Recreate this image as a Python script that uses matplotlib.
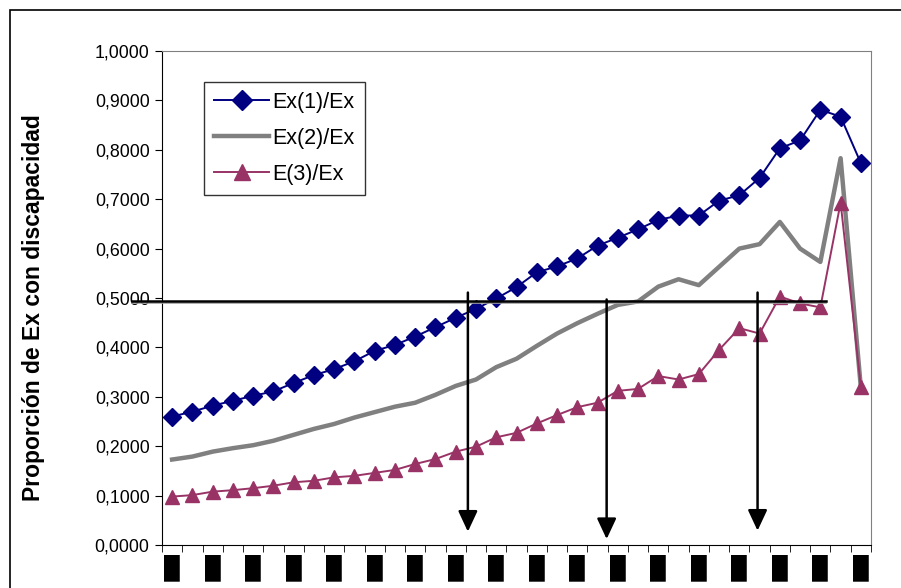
import matplotlib
matplotlib.use('Agg')
import matplotlib.pyplot as plt
from matplotlib.patches import Rectangle

plt.rcParams['font.family'] = ['Liberation Sans', 'DejaVu Sans']

# proportion of expected years lived with disability, by age group
ex1 = [0.260, 0.270, 0.282, 0.292, 0.302, 0.311, 0.328, 0.344, 0.356, 0.372,
       0.393, 0.405, 0.422, 0.441, 0.460, 0.478, 0.499, 0.522, 0.552, 0.564,
       0.580, 0.606, 0.622, 0.639, 0.658, 0.667, 0.667, 0.697, 0.708, 0.743,
       0.803, 0.819, 0.881, 0.867, 0.773]
ex2 = [0.173, 0.179, 0.189, 0.196, 0.202, 0.211, 0.223, 0.235, 0.245, 0.258,
       0.269, 0.280, 0.288, 0.304, 0.322, 0.335, 0.360, 0.377, 0.403, 0.428,
       0.449, 0.468, 0.486, 0.493, 0.523, 0.538, 0.526, 0.563, 0.600, 0.609,
       0.654, 0.600, 0.573, 0.783, 0.318]
ex3 = [0.098, 0.101, 0.108, 0.111, 0.115, 0.120, 0.127, 0.130, 0.137, 0.140,
       0.146, 0.152, 0.164, 0.174, 0.189, 0.199, 0.218, 0.227, 0.246, 0.263,
       0.279, 0.288, 0.312, 0.316, 0.342, 0.335, 0.346, 0.395, 0.439, 0.428,
       0.503, 0.489, 0.481, 0.693, 0.320]

series_labels = ['Ex(1)/Ex', 'Ex(2)/Ex', 'E(3)/Ex']
category_labels = ['\u2588'] * 18
y_ticks = [0.0, 0.1, 0.2, 0.3, 0.4, 0.5, 0.6, 0.7, 0.8, 0.9, 1.0]
y_tick_labels = ['0,0000', '0,1000', '0,2000', '0,3000', '0,4000', '0,5000',
                 '0,6000', '0,7000', '0,8000', '0,9000', '1,0000']

# reference level and the three age cut points marked with arrows
ref_level = 0.494
ref_span = (-2.0, 32.3)
arrow_x = [14.6, 21.45, 28.9]
arrow_top = [0.511, 0.497, 0.511]
arrow_tip = [0.027, 0.012, 0.029]

fig = plt.figure(figsize=(9.01, 5.88), dpi=100)
fig.patches.append(Rectangle((9.5 / 901, -0.05), 1.2, 1 - 9.5 / 588 + 0.05,
                             transform=fig.transFigure, fill=False,
                             edgecolor='black', linewidth=1.2))
ax = fig.add_axes([162 / 901, 1 - 545 / 588, 709 / 901, 494 / 588])

x = list(range(len(ex1)))
ax.plot(x, ex1, color='#000080', lw=1.4, marker='D', markersize=9,
        label=series_labels[0])
ax.plot(x, ex2, color='#808080', lw=3.2, label=series_labels[1])
ax.plot(x, ex3, color='#993366', lw=1.4, marker='^', markersize=10.5,
        label=series_labels[2])

ax.plot(ref_span, [ref_level - 0.005] * 2, color='#a0a0a0', lw=1.2,
        clip_on=False, zorder=4)
ax.plot(ref_span, [ref_level, ref_level], color='black', lw=1.8,
        clip_on=False, zorder=5)
for xa, top, tip in zip(arrow_x, arrow_top, arrow_tip):
    ax.annotate('', xy=(xa, tip), xytext=(xa, top),
                arrowprops=dict(arrowstyle='-|>,head_length=0.6,head_width=0.28',
                                color='black', lw=1.8, mutation_scale=21,
                                shrinkA=0, shrinkB=0), zorder=6)

ax.set_xlim(-0.5, len(ex1) - 0.5)
ax.set_ylim(0, 1)
ax.set_yticks(y_ticks)
ax.set_yticklabels(y_tick_labels, fontsize=12.8)
ax.set_xticks(list(range(0, len(ex1), 2)))
ax.set_xticklabels(category_labels, fontsize=16)
ax.set_xticks([i - 0.5 for i in range(len(ex1) + 1)], minor=True)
ax.tick_params(axis='x', which='major', length=0, pad=7)
ax.tick_params(axis='x', which='minor', length=5, direction='out')
ax.tick_params(axis='y', length=5, direction='out', pad=4)

for side in ['top', 'right']:
    ax.spines[side].set_color('#808080')
for side in ['left', 'bottom']:
    ax.spines[side].set_color('black')

ax.set_ylabel('Proporción de Ex con discapacidad', fontsize=16.5,
              fontweight='bold')
ax.yaxis.set_label_coords(-0.165, 0.48)

leg = ax.legend(loc='upper left', bbox_to_anchor=(0.059, 0.937),
                borderaxespad=0, fontsize=15.5, frameon=True, fancybox=False,
                edgecolor='black', handlelength=2.6, labelspacing=0.7,
                borderpad=0.45, handletextpad=0.15, markerscale=1.15)
leg.get_frame().set_linewidth(1.0)

fig.savefig('out.png', dpi=100)
